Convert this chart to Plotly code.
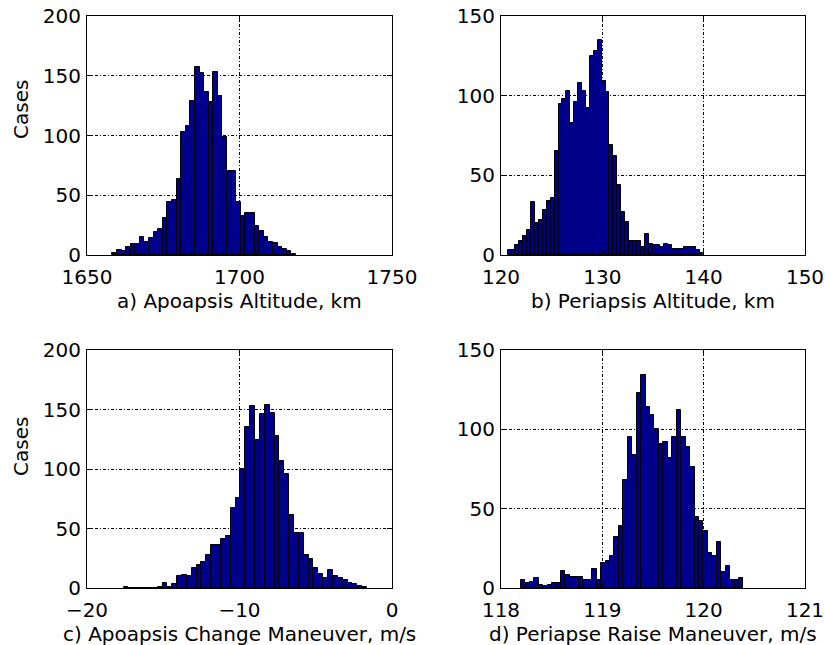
import plotly.graph_objects as go

# ---------------- data (histogram counts) ----------------
# a) Apoapsis Altitude, km  (40 bins)
a_start, a_width = 1658.3, 1.505
a_counts = [2, 4, 3, 7, 9, 9, 15, 11, 14, 19,
            22, 31, 44, 46, 64, 103, 108, 129, 157, 152,
            136, 128, 153, 133, 99, 70, 70, 44, 33, 35,
            35, 24, 20, 15, 11, 10, 7, 5, 3, 1]

# b) Periapsis Altitude, km  (50 bins)
b_start, b_width = 120.65, 0.3866
b_counts = [3, 3, 6, 9, 12, 16, 33, 20, 22, 28,
            34, 36, 65, 95, 98, 103, 83, 96, 108, 103,
            92, 125, 128, 135, 109, 102, 69, 62, 44, 27,
            21, 9, 9, 9, 5, 13, 7, 6, 6, 5,
            7, 6, 4, 4, 4, 5, 5, 5, 3, 1]

# c) Apoapsis Change Maneuver, m/s  (50 bins)
c_start, c_width = -17.6, 0.3192
c_counts = [1, 0, 0, 0, 0, 0, 0, 1, 4, 1,
            3, 10, 11, 10, 17, 19, 22, 28, 36, 36,
            41, 44, 67, 76, 100, 135, 153, 124, 146, 154,
            147, 128, 107, 96, 61, 46, 46, 28, 24, 17,
            12, 8, 15, 10, 8, 7, 4, 3, 2, 1]

# d) Periapse Raise Maneuver, m/s  (50 bins)
d_start, d_width = 118.197, 0.04392
d_counts = [5, 3, 4, 6, 2, 1, 2, 3, 3, 11,
            8, 7, 7, 7, 5, 5, 12, 5, 16, 17,
            20, 32, 39, 68, 95, 84, 123, 134, 114, 109,
            100, 91, 92, 82, 95, 112, 95, 89, 76, 45,
            42, 36, 22, 20, 29, 10, 14, 5, 5, 6]

# axis ticks / labels
a_xticks = [1650, 1700, 1750]
b_xticks = [120, 130, 140, 150]
c_xticks = [-20, -10, 0]
c_xticktext = ["\u221220", "\u221210", "0"]
d_xticks = [118, 119, 120, 121]
y200_ticks = [0, 50, 100, 150, 200]
y150_ticks = [0, 50, 100, 150]

titles = ["a) Apoapsis Altitude, km", "b) Periapsis Altitude, km",
          "c) Apoapsis Change Maneuver, m/s", "d) Periapse Raise Maneuver, m/s"]
ylabel = "Cases"

# ---------------- figure ----------------
W, H = 825, 645
FONT = "DejaVu Sans"
FS = 20
BAR_COLOR = "#00008F"

def px_x(p):
    return p / W

def px_y(p):
    return 1 - p / H

panels = [
    (a_start, a_width, a_counts, "x", "y"),
    (b_start, b_width, b_counts, "x2", "y2"),
    (c_start, c_width, c_counts, "x3", "y3"),
    (d_start, d_width, d_counts, "x4", "y4"),
]

fig = go.Figure()
for start, width, counts, xa, ya in panels:
    centers = [start + width * (i + 0.5) for i in range(len(counts))]
    fig.add_trace(go.Bar(
        x=centers, y=counts, width=[width] * len(counts),
        marker=dict(color=BAR_COLOR, line=dict(color="black", width=1)),
        xaxis=xa, yaxis=ya, showlegend=False, hoverinfo="x+y",
    ))

grid_dash = "3px,2px,1px,2px"

def xaxis(domain, rng, ticks, anchor, ticktext=None):
    d = dict(domain=domain, range=rng, tickvals=ticks, anchor=anchor,
             showline=True, linecolor="black", linewidth=1, mirror="ticks",
             ticks="inside", ticklen=5, tickcolor="black",
             showgrid=True, gridcolor="black", gridwidth=1, griddash=grid_dash,
             zeroline=False, automargin=False, ticklabelstandoff=4,
             tickfont=dict(family=FONT, size=FS, color="black"), fixedrange=True)
    if ticktext is not None:
        d["ticktext"] = ticktext
    return d

def yaxis(domain, rng, ticks, anchor):
    return dict(domain=domain, range=rng, tickvals=ticks, anchor=anchor,
                showline=True, linecolor="black", linewidth=1, mirror="ticks",
                ticks="inside", ticklen=5, tickcolor="black",
                showgrid=True, gridcolor="black", gridwidth=1, griddash=grid_dash,
                zeroline=False, automargin=False, ticklabelstandoff=1,
                tickfont=dict(family=FONT, size=FS, color="black"), fixedrange=True)

xl = [px_x(87), px_x(392)]
xr = [px_x(501), px_x(805)]
yt = [px_y(255), px_y(16)]
yb = [px_y(588), px_y(350)]

fig.update_layout(
    width=W, height=H,
    margin=dict(l=0, r=0, t=0, b=0),
    paper_bgcolor="white", plot_bgcolor="white",
    bargap=0,
    font=dict(family=FONT, size=FS, color="black"),
    xaxis=xaxis(xl, [1650, 1750], a_xticks, "y"),
    yaxis=yaxis(yt, [0, 200], y200_ticks, "x"),
    xaxis2=xaxis(xr, [120, 150], b_xticks, "y2"),
    yaxis2=yaxis(yt, [0, 150], y150_ticks, "x2"),
    xaxis3=xaxis(xl, [-20, 0], c_xticks, "y3", c_xticktext),
    yaxis3=yaxis(yb, [0, 200], y200_ticks, "x3"),
    xaxis4=xaxis(xr, [118, 121], d_xticks, "y4"),
    yaxis4=yaxis(yb, [0, 150], y150_ticks, "x4"),
)

ann = []
title_pos = [(239.5, 287), (653, 287), (239.5, 620), (653, 620)]
for t, (cx, ty) in zip(titles, title_pos):
    ann.append(dict(text=t, xref="paper", yref="paper", x=px_x(cx), y=px_y(ty),
                    xanchor="center", yanchor="top", showarrow=False,
                    font=dict(family=FONT, size=FS, color="black")))
for cy in (110, 447):
    ann.append(dict(text=ylabel, xref="paper", yref="paper", x=px_x(21), y=px_y(cy),
                    xanchor="center", yanchor="middle", textangle=-90, showarrow=False,
                    font=dict(family=FONT, size=FS, color="black")))
fig.update_layout(annotations=ann)

fig.write_html(
    "out.html",
    config={"displayModeBar": False},
    post_script="document.body.style.margin='0';document.body.style.overflow='hidden';",
)
